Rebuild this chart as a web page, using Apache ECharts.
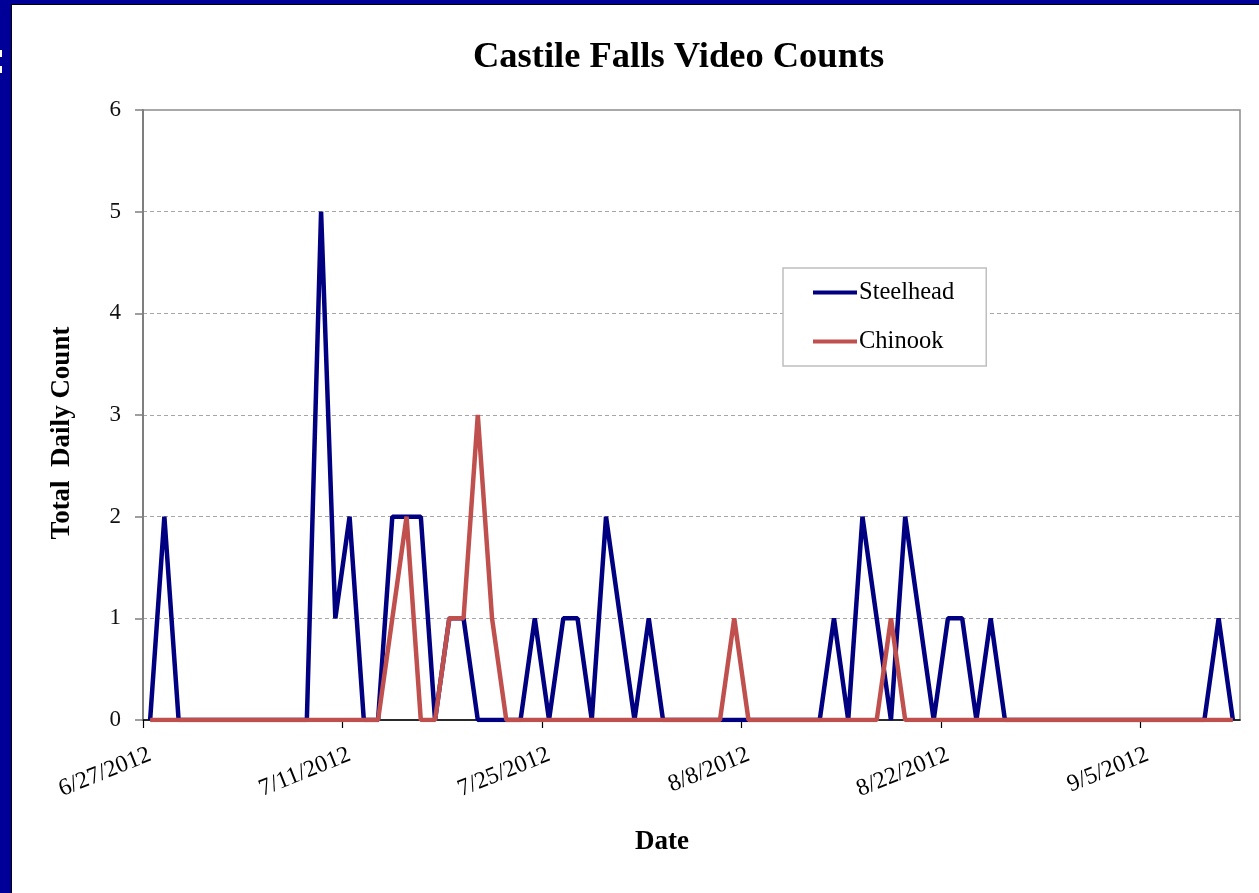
<!DOCTYPE html>
<html>
<head>
<meta charset="utf-8">
<script src="https://cdn.jsdelivr.net/npm/echarts@6/dist/echarts.min.js"></script>
<style>
html,body{margin:0;padding:0;background:#fff;}
#chart{width:1259px;height:893px;}
</style>
</head>
<body>
<div id="chart"></div>
<script>
// Daily counts, starting 6/27/2012 (one value per day through 9/11/2012)
const startLabel = '6/27/2012';
const dayCount = 77;
const xTickLabels = ['6/27/2012', '7/11/2012', '7/25/2012', '8/8/2012', '8/22/2012', '9/5/2012'];
const xTickDays = [0, 14, 28, 42, 56, 70];
const yTicks = [0, 1, 2, 3, 4, 5, 6];

const steelhead = [
  0, 2, 0, 0, 0, 0, 0, 0, 0, 0, 0, 0,
  5, 1, 2, 0, 0, 2, 2, 2, 0, 1, 1, 0, 0, 0, 0, 1, 0, 1, 1, 0, 2, 1, 0, 1, 0,
  0, 0, 0, 0, 0, 0, 0, 0, 0, 0, 0,
  1, 0, 2, 1, 0, 2, 1, 0, 1, 1, 0, 1, 0,
  0, 0, 0, 0, 0, 0, 0, 0, 0, 0, 0, 0, 0, 0,
  1, 0
];
const chinook = [
  0, 0, 0, 0, 0, 0, 0, 0, 0, 0, 0, 0, 0, 0, 0, 0, 0,
  1, 2, 0, 0, 1, 1, 3, 1,
  0, 0, 0, 0, 0, 0, 0, 0, 0, 0, 0, 0, 0, 0, 0, 0,
  1,
  0, 0, 0, 0, 0, 0, 0, 0, 0, 0,
  1,
  0, 0, 0, 0, 0, 0, 0, 0, 0, 0, 0, 0, 0, 0, 0, 0, 0, 0, 0, 0, 0, 0, 0, 0
];

const FONT = '"Liberation Serif", "Times New Roman", serif';
const toPoints = arr => arr.map((v, i) => [i + 0.5, v]);
const LABEL_SHIFT = 0.5; // labels sit slightly right of their tick, as in the original
const xLabelValues = xTickDays.map(d => d + LABEL_SHIFT);

const chart = echarts.init(document.getElementById('chart'), null, {renderer: 'canvas'});
chart.setOption({
  animation: false,
  backgroundColor: '#ffffff',
  title: {
    text: 'Castile Falls Video Counts',
    left: 468,
    top: 34,
    textStyle: {fontFamily: FONT, fontSize: 36.5, fontWeight: 'bold', color: '#000'}
  },
  graphic: [
    {type: 'rect', shape: {x: 0, y: 0, width: 12, height: 893}, style: {fill: '#000099'}, silent: true},
    {type: 'rect', shape: {x: 0, y: 0, width: 1259, height: 4}, style: {fill: '#000099'}, silent: true},
    {type: 'rect', shape: {x: 12, y: 4, width: 1247, height: 1}, style: {fill: '#000000'}, silent: true},
    {type: 'rect', shape: {x: 11, y: 4, width: 1, height: 889}, style: {fill: '#000000'}, silent: true},
    {type: 'rect', shape: {x: 0, y: 50, width: 2, height: 7}, style: {fill: '#ffffff'}, silent: true},
    {type: 'rect', shape: {x: 0, y: 66, width: 2, height: 7}, style: {fill: '#ffffff'}, silent: true},
    {
      type: 'text', x: 62, y: 433, rotation: Math.PI / 2,
      style: {text: 'Total  Daily Count', font: 'bold 27px ' + FONT, fill: '#000', align: 'center', verticalAlign: 'middle'},
      silent: true
    },
    {
      type: 'text', x: 662, y: 842,
      style: {text: 'Date', font: 'bold 27px ' + FONT, fill: '#000', align: 'center', verticalAlign: 'middle'},
      silent: true
    }
  ],
  legend: {
    orient: 'vertical',
    left: 783,
    top: 268,
    padding: [12, 32, 12, 30],
    itemGap: 24,
    itemWidth: 44,
    itemHeight: 4,
    icon: 'rect',
    backgroundColor: '#ffffff',
    borderColor: '#BFBFBF',
    borderWidth: 1.5,
    borderRadius: 0,
    textStyle: {fontFamily: FONT, fontSize: 24.5, color: '#000', lineHeight: 24, padding: [0, 0, 0, -3]},
    data: ['Steelhead', 'Chinook']
  },
  grid: {
    left: 143, top: 110, width: 1097, height: 610,
    show: true, borderColor: '#8C8C8C', borderWidth: 1.5, backgroundColor: '#ffffff',
    containLabel: false
  },
  xAxis: {
    type: 'value',
    min: 0,
    max: dayCount,
    interval: 14,
    axisLine: {show: true, lineStyle: {color: '#000', width: 1.5}},
    axisTick: {show: true, inside: false, length: 8, lineStyle: {color: '#000', width: 1.2}, customValues: xTickDays},
    axisLabel: {
      show: true,
      customValues: xLabelValues,
      rotate: 22,
      margin: 34,
      fontFamily: FONT,
      fontSize: 24,
      color: '#000',
      formatter: v => {
        const i = xTickDays.indexOf(Math.round(v - LABEL_SHIFT));
        return i >= 0 ? xTickLabels[i] : '';
      }
    },
    splitLine: {show: false}
  },
  yAxis: {
    type: 'value',
    min: yTicks[0],
    max: yTicks[yTicks.length - 1],
    interval: 1,
    axisLine: {show: true, lineStyle: {color: '#7F7F7F', width: 2}},
    axisTick: {show: true, inside: false, length: 8, lineStyle: {color: '#7F7F7F', width: 1.5}},
    axisLabel: {margin: 22, fontFamily: FONT, fontSize: 23, color: '#111'},
    splitLine: {show: true, showMinLine: false, showMaxLine: false, lineStyle: {color: '#A6A6A6', type: [4, 3], width: 1}}
  },
  series: [
    {
      name: 'Steelhead',
      type: 'line',
      data: toPoints(steelhead),
      showSymbol: false,
      symbol: 'none',
      lineStyle: {color: '#000080', width: 4.5},
      itemStyle: {color: '#000080'},
      z: 3
    },
    {
      name: 'Chinook',
      type: 'line',
      data: toPoints(chinook),
      showSymbol: false,
      symbol: 'none',
      lineStyle: {color: '#C0504D', width: 4.5},
      itemStyle: {color: '#C0504D'},
      z: 4
    }
  ]
});
</script>
</body>
</html>
